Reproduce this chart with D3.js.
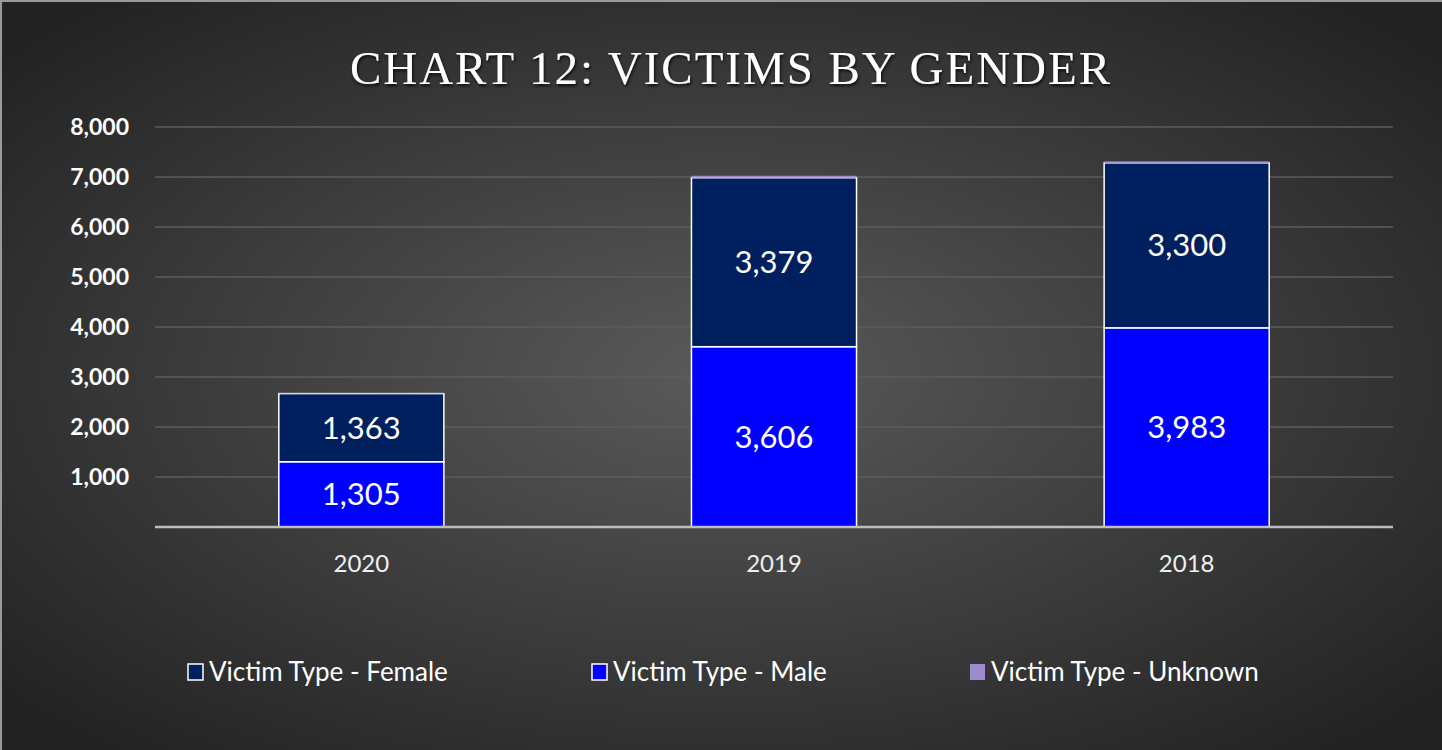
<!DOCTYPE html>
<html>
<head>
<meta charset="utf-8">
<script src="https://cdn.jsdelivr.net/npm/d3@7"></script>
<style>
  body { margin: 0; background: #262626; }
  svg { display: block; }
</style>
</head>
<body>
<div id="contenedor"></div>
<script>
// datos
const years = ["2020", "2019", "2018"]
const female = [1363, 3379, 3300]
const male = [1305, 3606, 3983]
const unknown = [8, 40, 30]
const yTicks = [1000, 2000, 3000, 4000, 5000, 6000, 7000, 8000]
const seriesNames = ["Victim Type - Female", "Victim Type - Male", "Victim Type - Unknown"]

const ancho = 1442, alto = 750
const colores = {male: "#0000ff", female: "#001f5f", unknown: "#9f8ad0"}

const svg = d3.select("#contenedor").append("svg")
    .attr("width", ancho)
    .attr("height", alto)

const defs = svg.append("defs")
const grad = defs.append("radialGradient")
    .attr("id", "fondo")
    .attr("cx", "50%").attr("cy", "50%").attr("r", "65%")
grad.append("stop").attr("offset", "0%").attr("stop-color", "#5a5a5a")
grad.append("stop").attr("offset", "100%").attr("stop-color", "#232323")

const sombra = defs.append("filter").attr("id", "sombra")
sombra.append("feDropShadow")
    .attr("dx", 1).attr("dy", 2).attr("stdDeviation", 1.5)
    .attr("flood-color", "#000").attr("flood-opacity", 0.8)

svg.append("rect")
    .attr("width", ancho).attr("height", alto)
    .attr("fill", "url(#fondo)")

// borde claro arriba e izquierda
svg.append("path")
    .attr("d", "M1,750 L1,1 L1442,1")
    .attr("fill", "none")
    .attr("stroke", "#9a9a9a")
    .attr("stroke-width", 2)

// titulo
svg.append("text")
    .attr("x", 730)
    .attr("y", 84)
    .attr("text-anchor", "middle")
    .attr("fill", "#ffffff")
    .attr("font-family", "'Liberation Serif', serif")
    .attr("font-size", 47)
    .attr("textLength", 760)
    .attr("lengthAdjust", "spacing")
    .attr("filter", "url(#sombra)")
    .text("CHART 12: VICTIMS BY GENDER")

const margen = {left: 155, right: 1393, top: 127, bottom: 527}

const x = d3.scaleBand()
    .domain(years)
    .range([margen.left, margen.right])
    .paddingInner(0.6)
    .paddingOuter(0.3)

const y = d3.scaleLinear()
    .domain([0, 8000])
    .range([margen.bottom, margen.top])

// lineas de la grilla
svg.append("g")
    .selectAll("line")
    .data(yTicks)
    .enter()
    .append("line")
    .attr("x1", margen.left)
    .attr("x2", margen.right)
    .attr("y1", d => y(d))
    .attr("y2", d => y(d))
    .attr("stroke", "#5c5c5c")
    .attr("stroke-width", 1.5)

// eje Y
const ejeY = d3.axisLeft(y)
    .tickValues(yTicks)
    .tickFormat(d3.format(","))
    .tickSize(0)
    .tickPadding(26)

svg.append("g")
    .attr("transform", "translate(" + margen.left + ",0)")
    .call(ejeY)
    .call(g => g.select(".domain").remove())
    .selectAll("text")
    .attr("fill", "#ffffff")
    .attr("font-family", "Lato, 'Open Sans', sans-serif")
    .attr("font-weight", "bold")
    .attr("font-size", 23)

// barras apiladas
const filas = years.map((yr, i) => ({year: yr, male: male[i], female: female[i], unknown: unknown[i]}))
const stack = d3.stack().keys(["male", "female", "unknown"])(filas)

const capas = svg.append("g")
    .selectAll("g")
    .data(stack)
    .enter()
    .append("g")
    .attr("fill", d => colores[d.key])
    .attr("stroke", d => d.key === "unknown" ? "none" : "#ffffff")

capas.selectAll("rect")
    .data(d => d)
    .enter()
    .append("rect")
    .attr("x", d => x(d.data.year))
    .attr("width", x.bandwidth())
    .attr("y", d => y(d[1]))
    .attr("height", d => y(d[0]) - y(d[1]))
    .attr("stroke-width", 1.5)

// eje X (linea base)
svg.append("line")
    .attr("x1", margen.left)
    .attr("x2", margen.right)
    .attr("y1", y(0))
    .attr("y2", y(0))
    .attr("stroke", "#bdbdbd")
    .attr("stroke-width", 2.5)

const ejeX = d3.axisBottom(x).tickSize(0).tickPadding(28)
svg.append("g")
    .attr("transform", "translate(0," + y(0) + ")")
    .call(ejeX)
    .call(g => g.select(".domain").remove())
    .selectAll("text")
    .attr("fill", "#f0f0f0")
    .attr("font-family", "Lato, 'Open Sans', sans-serif")
    .attr("font-size", 24)

// etiquetas de datos (male y female)
stack.filter(s => s.key !== "unknown").forEach(s => {
    svg.append("g")
        .selectAll("text")
        .data(s)
        .enter()
        .append("text")
        .attr("x", d => x(d.data.year) + x.bandwidth() / 2)
        .attr("y", d => (y(d[0]) + y(d[1])) / 2)
        .attr("dy", "0.35em")
        .attr("text-anchor", "middle")
        .attr("fill", "#ffffff")
        .attr("font-family", "Lato, 'Open Sans', sans-serif")
        .attr("font-size", 31)
        .text(d => d3.format(",")(d[1] - d[0]))
})

// leyenda
const leyendaX = [188, 592, 970]
const leyendaColores = [colores.female, colores.male, colores.unknown]
const leyenda = svg.append("g")
    .selectAll("g")
    .data(seriesNames)
    .enter()
    .append("g")
    .attr("transform", (d, i) => "translate(" + leyendaX[i] + ",672)")

leyenda.append("rect")
    .attr("x", 0).attr("y", -8)
    .attr("width", 15).attr("height", 16)
    .attr("fill", (d, i) => leyendaColores[i])
    .attr("stroke", (d, i) => i < 2 ? "#ffffff" : "none")
    .attr("stroke-width", 1.5)

leyenda.append("text")
    .attr("x", 21)
    .attr("dy", "0.35em")
    .attr("fill", "#ffffff")
    .attr("font-family", "Lato, 'Open Sans', sans-serif")
    .attr("font-size", 26)
    .text(d => d)
</script>
</body>
</html>
